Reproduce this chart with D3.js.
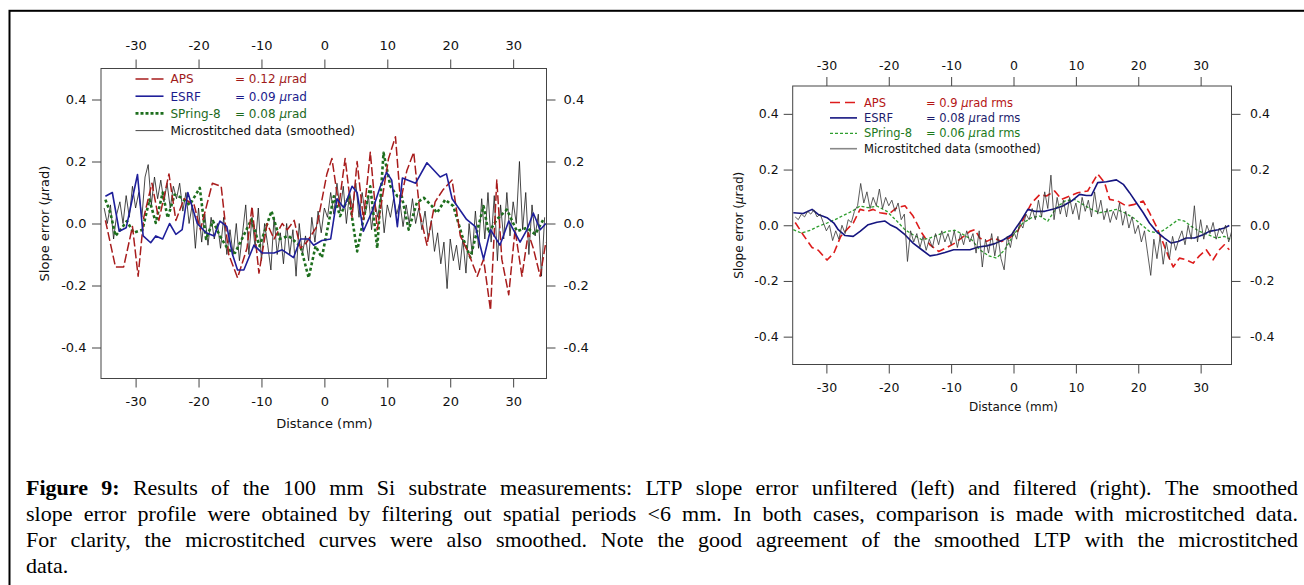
<!DOCTYPE html>
<html>
<head>
<meta charset="utf-8">
<script src="https://cdn.jsdelivr.net/npm/d3@7"></script>
<style>
  body { margin: 0; background: #fff; }
  svg { display: block; }
</style>
</head>
<body>
<div id="chart"></div>
<script>
const width = 1304;
const height = 585;

const xTicks = [-30, -20, -10, 0, 10, 20, 30];
const yTicks = [-0.4, -0.2, 0.0, 0.2, 0.4];

// ---- left panel: LTP slope error unfiltered ----
const leftAps = [[-34.8,0.01],[-33.2,-0.14],[-31.9,-0.14],[-30.5,-0.01],[-29.6,-0.17],[-28.7,0.02],[-27.4,0.13],[-26.3,0.01],[-24.7,0.16],[-23.6,0.01],[-22.3,0.08],[-20.7,0.06],[-19.7,-0.02],[-17.8,0.13],[-16.4,0.12],[-15.2,-0.1],[-13.8,-0.175],[-12.3,-0.08],[-11.5,0.055],[-10.4,-0.16],[-9.1,0.0],[-8.0,-0.05],[-6.7,0.0],[-5.9,-0.02],[-4.8,0.01],[-3.8,-0.08],[-2.8,-0.06],[-1.2,-0.01],[0.4,0.16],[1.2,0.21],[2.3,0.056],[3.3,0.21],[4.4,0.02],[5.2,0.2],[6.2,0.013],[7.3,0.23],[8.4,-0.02],[10.2,0.21],[11.3,0.28],[12.1,0.07],[13.1,0.17],[14.2,0.23],[15.2,0.03],[16.3,-0.07],[17.6,0.07],[18.9,0.11],[20.3,0.14],[21.6,-0.04],[22.9,-0.095],[24.3,-0.17],[25.3,-0.115],[26.4,-0.28],[27.4,0.14],[28.2,-0.115],[29.3,-0.23],[30.3,-0.02],[31.4,-0.17],[32.4,-0.03],[33.2,-0.08],[34.3,-0.17],[35.2,-0.06]];

const leftEsrf = [[-34.8,0.088],[-33.7,0.1],[-32.6,-0.025],[-31.5,-0.014],[-29.7,0.158],[-28.8,-0.04],[-27.6,-0.062],[-26.8,-0.04],[-25.7,-0.05],[-24.6,0.0],[-23.6,-0.035],[-22.6,-0.02],[-21.7,0.1],[-20.2,0.0],[-18.8,-0.03],[-17.5,-0.04],[-16.6,0.008],[-15.5,-0.01],[-14.6,-0.1],[-13.8,-0.15],[-12.8,-0.15],[-11.2,-0.07],[-9.9,-0.095],[-8.0,-0.095],[-6.7,-0.085],[-4.9,-0.11],[-3.8,-0.05],[-2.5,-0.05],[-1.7,-0.07],[-0.4,-0.055],[1.0,-0.05],[2.0,0.08],[3.1,0.05],[4.4,0.12],[5.2,0.1],[6.2,-0.025],[7.6,0.04],[8.9,0.12],[9.9,0.165],[10.7,0.14],[11.6,-0.01],[12.4,0.147],[14.5,0.13],[16.3,0.196],[18.4,0.15],[19.4,0.16],[20.3,0.08],[22.6,0.013],[24.0,-0.01],[25.3,-0.115],[26.4,-0.02],[27.9,-0.07],[29.3,0.008],[31.1,-0.06],[32.2,-0.02],[33.2,0.034],[34.3,-0.02],[35.2,0.0]];

const leftSpring = [[-34.8,0.077],[-34.0,0.034],[-33.2,-0.04],[-32.4,-0.02],[-31.4,0.008],[-30.3,-0.03],[-28.9,-0.02],[-27.8,0.077],[-26.8,0.002],[-25.7,0.1],[-24.9,0.018],[-23.8,0.093],[-22.7,0.083],[-21.4,0.06],[-19.8,0.115],[-18.8,-0.05],[-17.7,0.008],[-16.6,-0.04],[-15.3,-0.084],[-14.2,-0.095],[-13.1,-0.05],[-11.6,0.013],[-10.3,-0.073],[-8.4,0.04],[-7.1,-0.05],[-5.7,-0.04],[-3.8,-0.073],[-2.5,-0.175],[-1.4,-0.073],[-0.4,-0.11],[1.5,0.088],[2.5,0.024],[3.9,0.088],[5.2,-0.09],[6.2,0.013],[7.3,0.12],[8.4,-0.08],[9.4,0.228],[10.5,0.12],[11.6,0.088],[12.3,0.088],[13.4,-0.02],[14.7,0.067],[15.8,0.083],[17.1,0.056],[17.9,0.034],[19.2,0.077],[20.5,0.056],[21.9,-0.04],[23.2,-0.11],[24.2,-0.03],[25.3,0.056],[26.1,-0.03],[27.4,0.013],[29.0,0.045],[30.6,-0.025],[32.2,-0.014],[33.5,-0.035],[34.8,0.013]];

// microstitched profile, one value every 0.5 mm from -35 to 35
const microStep = 0.5;
const leftMicro = [
  0.05, 0.0, 0.06, -0.05, 0.03, 0.07, 0.0, 0.09, 0.02, 0.12,
  0.05, 0.1, 0.02, 0.15, 0.19, 0.06, 0.15, 0.08, 0.14, 0.07,
  0.13, 0.05, 0.12, 0.08, 0.13, 0.04, 0.1, 0.0, 0.06, -0.08,
  0.05, -0.06, 0.03, -0.07, 0.02, -0.05, 0.0, -0.08, 0.02, -0.1,
  -0.02, -0.1, 0.0, -0.12, -0.03, 0.06, -0.1, 0.02, -0.08, 0.05,
  -0.12, 0.0, -0.07, -0.15, 0.02, -0.1, -0.03, -0.13, 0.0, -0.1,
  -0.02, -0.17, 0.0, -0.1, -0.04, -0.12, 0.02, -0.06, 0.04, -0.03,
  0.05, 0.02, 0.1, 0.03, 0.13, 0.04, 0.12, 0.0, 0.1, 0.05,
  0.13, 0.02, 0.1, 0.03, 0.09, -0.02, 0.07, 0.02, 0.09, -0.03,
  0.06, 0.02, 0.08, 0.03, 0.07, -0.01, 0.06, 0.0, 0.08, 0.0,
  0.05, -0.02, 0.04, -0.05, 0.01, -0.09, -0.03, -0.13, -0.06, -0.21,
  -0.05, -0.12, -0.07, -0.15, -0.05, -0.16, 0.0, -0.1, 0.04, -0.08,
  0.08, -0.05, 0.1, -0.06, 0.09, -0.12, 0.06, -0.05, 0.1, -0.04,
  0.07, 0.0, 0.2, -0.02, 0.1, -0.1, 0.06, -0.04, 0.03, -0.17,
  0.02
];

// ---- right panel: filtered ----
const rightAps = [[-35.0,0.01],[-33.7,-0.035],[-32.3,-0.08],[-31.3,-0.09],[-29.9,-0.125],[-28.8,-0.1],[-27.7,-0.04],[-26.7,-0.015],[-25.7,0.008],[-24.6,0.057],[-23.5,0.05],[-22.5,0.057],[-21.4,0.045],[-20.0,0.04],[-18.7,0.063],[-17.4,0.07],[-16.1,0.033],[-14.7,-0.028],[-13.4,-0.07],[-12.0,-0.094],[-10.7,-0.08],[-9.4,-0.064],[-8.0,-0.04],[-7.0,-0.022],[-6.2,-0.016],[-5.4,-0.046],[-4.3,-0.058],[-3.2,-0.046],[-1.9,-0.058],[-0.6,-0.045],[0.7,-0.02],[1.8,0.033],[2.9,0.08],[4.2,0.11],[5.3,0.105],[6.6,0.123],[7.7,0.093],[9.0,0.105],[10.3,0.117],[11.9,0.123],[13.5,0.184],[14.6,0.153],[15.4,0.093],[16.7,0.087],[18.1,0.069],[19.4,0.075],[20.8,0.087],[21.8,0.045],[22.9,-0.004],[24.0,-0.064],[24.8,-0.11],[25.6,-0.15],[26.6,-0.118],[27.7,-0.124],[28.8,-0.136],[29.8,-0.11],[30.9,-0.088],[32.0,-0.124],[33.0,-0.088],[33.8,-0.07],[34.6,-0.088]];

const rightEsrf = [[-35.3,0.045],[-33.7,0.042],[-32.3,0.057],[-31.3,0.039],[-29.9,0.027],[-28.8,0.008],[-28.1,-0.016],[-27.0,-0.037],[-25.7,-0.04],[-24.6,-0.022],[-23.3,0.002],[-21.9,0.011],[-20.6,0.015],[-19.8,0.002],[-18.7,-0.01],[-17.4,-0.034],[-16.1,-0.064],[-14.7,-0.088],[-13.4,-0.11],[-12.3,-0.106],[-11.0,-0.098],[-9.6,-0.088],[-8.3,-0.088],[-7.0,-0.088],[-5.6,-0.078],[-4.3,-0.074],[-3.0,-0.066],[-1.6,-0.052],[-0.3,-0.034],[0.2,-0.016],[1.3,0.02],[2.3,0.057],[3.4,0.05],[5.0,0.05],[6.6,0.059],[7.9,0.069],[9.3,0.087],[10.6,0.111],[11.7,0.107],[12.5,0.107],[13.5,0.153],[14.9,0.156],[16.5,0.163],[17.6,0.147],[18.6,0.117],[19.7,0.081],[20.8,0.045],[21.8,0.008],[22.9,-0.022],[24.2,-0.046],[25.3,-0.064],[26.4,-0.058],[27.7,-0.046],[29.0,-0.046],[30.4,-0.034],[31.4,-0.022],[32.8,-0.016],[33.8,-0.01],[34.6,-0.001]];

const rightSpring = [[-35.3,-0.016],[-34.0,-0.028],[-32.6,-0.018],[-31.3,-0.004],[-29.9,0.008],[-28.6,0.02],[-27.3,0.035],[-25.9,0.05],[-24.6,0.069],[-23.3,0.063],[-21.9,0.069],[-20.3,0.05],[-18.7,0.015],[-17.4,-0.016],[-16.1,-0.034],[-14.7,-0.052],[-13.4,-0.046],[-12.0,-0.034],[-10.7,-0.022],[-9.4,-0.018],[-8.0,-0.034],[-6.7,-0.052],[-5.4,-0.088],[-4.0,-0.11],[-2.7,-0.118],[-1.4,-0.088],[0.0,-0.034],[1.5,0.008],[2.9,0.027],[4.2,0.033],[5.5,0.015],[6.9,0.063],[8.2,0.087],[9.8,0.093],[11.1,0.075],[12.5,0.057],[13.8,0.045],[15.1,0.05],[16.5,0.057],[17.8,0.045],[19.2,0.027],[20.5,0.002],[21.8,-0.022],[23.2,-0.028],[24.2,-0.016],[25.3,0.002],[26.4,0.02],[27.4,0.015],[28.5,-0.004],[29.8,-0.022],[31.2,-0.034],[32.5,-0.046],[33.8,-0.04],[34.9,-0.052]];

const rightMicro = [
  0.03, 0.02, 0.04, 0.03, 0.05, 0.04, 0.055, 0.03, 0.04, 0.01,
  -0.02, 0.0, -0.055, -0.02, -0.05, 0.0, -0.03, 0.02, 0.01, 0.05,
  0.07, 0.15, 0.08, 0.12, 0.06, 0.1, 0.07, 0.13, 0.06, 0.1,
  0.07, 0.09, 0.05, 0.08, 0.02, 0.04, -0.13, -0.02, -0.06, -0.03,
  -0.08, -0.04, -0.09, -0.05, -0.08, -0.03, -0.07, -0.02, -0.06, -0.03,
  -0.07, -0.02, -0.08, -0.03, -0.07, -0.02, -0.06, -0.03, -0.1, -0.02,
  -0.15, -0.05, -0.1, -0.03, -0.11, -0.04, -0.12, -0.16, -0.04, -0.08,
  -0.02, -0.05, 0.01, -0.01, 0.04, 0.02, 0.06, 0.02, 0.09, 0.03,
  0.12, 0.06, 0.18, 0.02, 0.1, 0.04, 0.09, 0.03, 0.1, 0.04,
  0.08, 0.02, 0.1, 0.05, 0.09, 0.03, 0.12, 0.04, 0.09, 0.02,
  0.06, 0.01, 0.05, 0.02, 0.08, 0.0, 0.05, -0.01, 0.03, -0.03,
  0.0, -0.06, -0.02, -0.1, -0.18, -0.05, -0.12, -0.04, -0.14, -0.06,
  -0.12, -0.04, -0.09, -0.05, -0.02, -0.07, 0.0, -0.05, 0.07, -0.06,
  0.02, -0.05, 0.0, -0.03, 0.01, -0.05, -0.01, -0.03, 0.0, -0.06,
  -0.02
];

const legendNames = ["APS", "ESRF", "SPring-8", "Microstitched data (smoothed)"];
const leftRms = ["0.12", "0.09", "0.08"];
const rightRms = ["0.9", "0.08", "0.06"];

const captionBold = "Figure 9:";
const captionLines = [
  "Results of the 100 mm Si substrate measurements: LTP slope error unfiltered (left) and filtered (right). The smoothed",
  "slope error profile were obtained by filtering out spatial periods <6 mm. In both cases, comparison is made with microstitched data.",
  "For clarity, the microstitched curves were also smoothed. Note the good agreement of the smoothed LTP with the microstitched",
  "data."
];

const svg = d3
  .select("#chart")
  .append("svg")
  .attr("width", width)
  .attr("height", height)
  .style("font-family", "'DejaVu Sans', Verdana, sans-serif");

svg.append("rect").attr("width", width).attr("height", height).attr("fill", "#fff");

// page frame (only top and left edges show)
svg.append("rect")
  .attr("x", 9.5).attr("y", 10.8)
  .attr("width", 1400).attr("height", 700)
  .attr("fill", "none").attr("stroke", "#000").attr("stroke-width", 2);

const toPairs = (vals) => vals.map((v, i) => [-35 + i * microStep, v]);

function drawPanel(p) {
  const x = d3.scaleLinear().domain(p.xDomain).range([p.left, p.right]);
  const y = d3.scaleLinear().domain([-0.5, 0.5]).range([p.bottom, p.top]);
  const g = svg.append("g");

  const fmtX = (d) => String(d).replace("\u2212", "-");
  const fmtY = (d) => d3.format(".1f")(d).replace("\u2212", "-");

  const styleAxis = (sel) => {
    sel.select(".domain").remove();
    sel.selectAll(".tick line").attr("stroke", "#444");
    sel.selectAll(".tick text")
      .attr("fill", "#111")
      .style("font-size", p.tickFont + "px")
      .style("font-family", "'DejaVu Sans', Verdana, sans-serif");
  };

  g.append("g").attr("transform", `translate(0,${p.bottom})`)
    .call(d3.axisBottom(x).tickValues(xTicks).tickSize(9).tickPadding(p.padBottom).tickFormat(fmtX))
    .call(styleAxis);
  g.append("g").attr("transform", `translate(0,${p.top})`)
    .call(d3.axisTop(x).tickValues(xTicks).tickSize(9).tickPadding(p.padTop).tickFormat(fmtX))
    .call(styleAxis);
  g.append("g").attr("transform", `translate(${p.left},0)`)
    .call(d3.axisLeft(y).tickValues(yTicks).tickSize(9).tickPadding(p.padLeft).tickFormat(fmtY))
    .call(styleAxis);
  g.append("g").attr("transform", `translate(${p.right},0)`)
    .call(d3.axisRight(y).tickValues(yTicks).tickSize(9).tickPadding(p.padRight).tickFormat(fmtY))
    .call(styleAxis);

  // plot box
  g.append("rect")
    .attr("x", p.left).attr("y", p.top)
    .attr("width", p.right - p.left).attr("height", p.bottom - p.top)
    .attr("fill", "none").attr("stroke", "#444").attr("stroke-width", 1);

  g.append("clipPath").attr("id", p.id + "-clip")
    .append("rect")
    .attr("x", p.left).attr("y", p.top)
    .attr("width", p.right - p.left).attr("height", p.bottom - p.top);

  const line = d3.line().x((d) => x(d[0])).y((d) => y(d[1]));
  const plot = g.append("g").attr("clip-path", `url(#${p.id}-clip)`);

  p.series.forEach((s) => {
    plot.append("path")
      .datum(s.data)
      .attr("fill", "none")
      .attr("stroke", s.color)
      .attr("stroke-width", s.width)
      .attr("stroke-dasharray", s.dash || null)
      .attr("stroke-linejoin", "round")
      .attr("d", line);
  });

  // axis titles
  g.append("text")
    .attr("x", (x(0))).attr("y", p.xTitleY)
    .attr("text-anchor", "middle")
    .style("font-size", p.titleFont + "px")
    .attr("fill", "#111")
    .text("Distance (mm)");

  const yt = g.append("text")
    .attr("transform", `translate(${p.yTitleX},${y(0)}) rotate(-90)`)
    .attr("text-anchor", "middle")
    .style("font-size", p.titleFont + "px")
    .attr("fill", "#111");
  yt.append("tspan").text("Slope error (");
  yt.append("tspan").style("font-style", "italic").text("\u03bc");
  yt.append("tspan").text("rad)");

  // legend
  const lg = g.append("g");
  p.legend.forEach((item, i) => {
    const cy = p.legendY + i * p.legendStep;
    lg.append("line")
      .attr("x1", p.legendX).attr("x2", p.legendX + p.legendLen)
      .attr("y1", cy).attr("y2", cy)
      .attr("stroke", item.lineColor)
      .attr("stroke-width", item.width)
      .attr("stroke-dasharray", item.dash || null);
    lg.append("text")
      .attr("x", p.legendX + p.legendLen + 7).attr("y", cy + p.legendFont * 0.36)
      .style("font-size", p.legendFont + "px")
      .attr("fill", item.textColor)
      .text(legendNames[i]);
    if (item.rms) {
      const t = lg.append("text")
        .attr("x", p.valueX).attr("y", cy + p.legendFont * 0.36)
        .style("font-size", p.legendFont + "px")
        .attr("fill", item.textColor);
      t.append("tspan").text("= " + item.rms + " ");
      t.append("tspan").style("font-style", "italic").text("\u03bc");
      t.append("tspan").text("rad" + p.unitSuffix);
    }
  });
}

// left: unfiltered
drawPanel({
  id: "left",
  left: 101, right: 546.5, top: 68.5, bottom: 378.5,
  xDomain: [-35.5, 35.3],
  tickFont: 13, titleFont: 13, legendFont: 12,
  padBottom: 9, padTop: 9.5, padLeft: 5.5, padRight: 8,
  xTitleY: 428, yTitleX: 48.5,
  legendX: 135.5, legendLen: 28, legendY: 79, legendStep: 17.2, valueX: 235,
  unitSuffix: "",
  series: [
    { data: toPairs(leftMicro), color: "#1a1a1a", width: 0.8 },
    { data: leftSpring, color: "#1d6e1d", width: 2.6, dash: "3,2.5" },
    { data: leftAps, color: "#a81c1c", width: 1.5, dash: "9,3" },
    { data: leftEsrf, color: "#1f1f9a", width: 1.6 }
  ],
  legend: [
    { lineColor: "#a81c1c", textColor: "#a01a1a", width: 1.5, dash: "13,3", rms: leftRms[0] },
    { lineColor: "#1f1f9a", textColor: "#1c1c8c", width: 1.6, rms: leftRms[1] },
    { lineColor: "#1d6e1d", textColor: "#1d6a1d", width: 2.6, dash: "3,2", rms: leftRms[2] },
    { lineColor: "#1a1a1a", textColor: "#111", width: 0.8 }
  ]
});

// right: filtered
drawPanel({
  id: "right",
  left: 792.7, right: 1231.5, top: 86, bottom: 364.5,
  xDomain: [-35.4, 34.95],
  tickFont: 12.5, titleFont: 12, legendFont: 11.5,
  padBottom: 9.5, padTop: 7.5, padLeft: 5, padRight: 9.5,
  xTitleY: 410.5, yTitleX: 742.5,
  legendX: 830, legendLen: 27, legendY: 102.5, legendStep: 15.4, valueX: 926,
  unitSuffix: " rms",
  series: [
    { data: rightAps, color: "#dd1c1c", width: 1.6, dash: "8,4" },
    { data: rightSpring, color: "#2e9e2e", width: 1.3, dash: "3,2" },
    { data: rightEsrf, color: "#151580", width: 1.6 },
    { data: toPairs(rightMicro), color: "#333", width: 0.8 }
  ],
  legend: [
    { lineColor: "#dd1c1c", textColor: "#b51515", width: 1.6, dash: "10,5", rms: rightRms[0] },
    { lineColor: "#151580", textColor: "#1c1c6c", width: 1.6, rms: rightRms[1] },
    { lineColor: "#2e9e2e", textColor: "#1c7a1c", width: 1.3, dash: "3,2", rms: rightRms[2] },
    { lineColor: "#888", textColor: "#111", width: 1.6 }
  ]
});

// caption, justified word by word
const capLeft = 26;
const capRight = 1298;
const capTop = 495;
const capLead = 26;
const cap = svg.append("g")
  .style("font-family", "'Liberation Serif', 'Times New Roman', serif")
  .style("font-size", "22px")
  .attr("fill", "#000");

captionLines.forEach((line, i) => {
  const words = line.split(" ").map((w) => ({ t: w, b: false }));
  if (i === 0) {
    words.unshift(...captionBold.split(" ").map((w) => ({ t: w, b: true })));
  }
  const texts = cap.selectAll(null)
    .data(words)
    .enter()
    .append("text")
    .attr("y", capTop + i * capLead)
    .style("font-weight", (d) => (d.b ? "bold" : "normal"))
    .text((d) => d.t);
  const widths = texts.nodes().map((n) => n.getComputedTextLength());
  const total = d3.sum(widths);
  const justify = i < captionLines.length - 1 && words.length > 1;
  const gap = justify ? Math.max(3, (capRight - capLeft - total) / (words.length - 1)) : 5.5;
  let cx = capLeft;
  texts.attr("x", (d, j) => {
    const v = cx;
    cx += widths[j] + gap;
    return v;
  });
});
</script>
</body>
</html>
